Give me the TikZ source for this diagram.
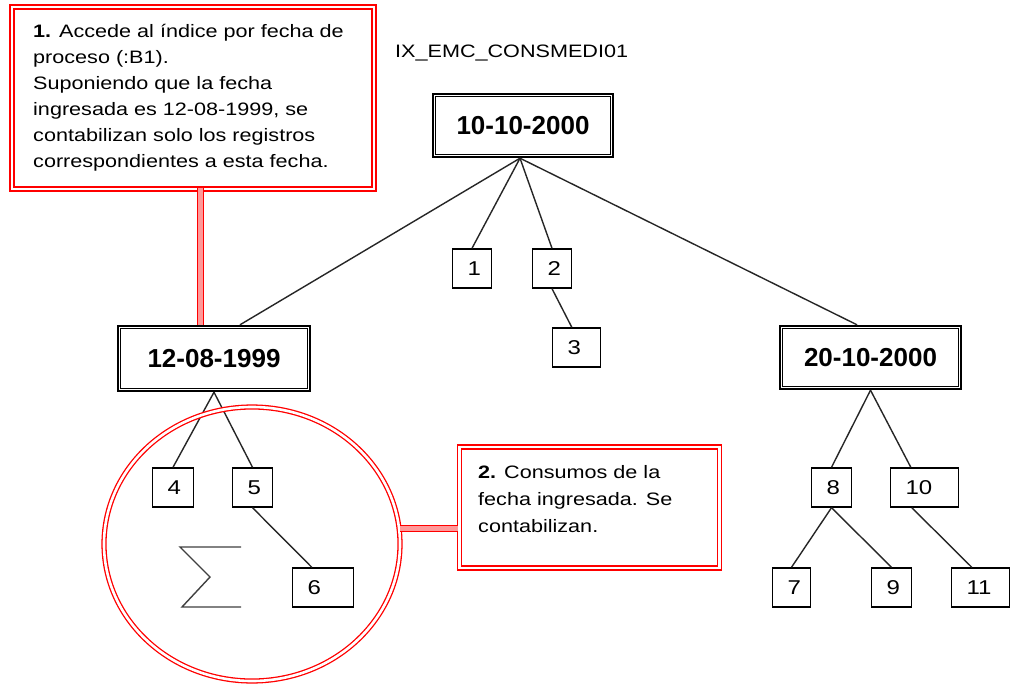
\documentclass[tikz,border=0pt]{standalone}
\usepackage{fontspec}
\setmainfont{Liberation Sans}
\newfontfamily\notefont{Liberation Sans}[FakeStretch=1.2]
\usetikzlibrary{shapes.geometric,calc}

\begin{document}
\begin{tikzpicture}[x=1pt,y=-1pt,
  link/.style={draw=black!85, line width=1.4pt},
  numbox/.style={draw, line width=1.4pt, minimum height=39pt, inner xsep=15pt,
    inner ysep=0pt, text width=#1, align=left,
    font=\notefont\fontsize{20}{24}\selectfont},
  dateframe/.style={draw, line width=2.4pt, inner sep=0pt,
    font=\fontsize{26}{30}\selectfont\bfseries},
  inframe/.style={line width=1pt},
  redframe/.style={draw=red, line width=1.3pt, double=white, double distance=2.6pt},
  redlink/.style={draw=red, line width=1pt, double=red!40, double distance=4.5pt},
  notetext/.style={inner sep=0pt, align=left},
]
\useasboundingbox (0,0) rectangle (1011,685);
\fill[white] (0,0) rectangle (1011,685);

% index name
\node[notetext, anchor=base west, font=\notefont\fontsize{18}{26}\selectfont]
  (ixname) at (395,57) {IX\_EMC\_CONSMEDI01};

% date keys of the index
\node[dateframe, minimum width=180pt, minimum height=63pt] (d1) at (523,125.5) {10-10-2000};
\node[dateframe, minimum width=192pt, minimum height=65pt] (d2) at (214,358.5) {12-08-1999};
\node[dateframe, minimum width=181pt, minimum height=63pt] (d3) at (870.5,357.5) {20-10-2000};
\foreach \d in {d1,d2,d3}
  \draw[inframe] ([shift={(4,-4)}]\d.south west) rectangle ([shift={(-4,4)}]\d.north east);

% record boxes
\node[numbox=9pt]  (n1)  at (472,268.5)   {1};
\node[numbox=9pt]  (n2)  at (552,268.5)   {2};
\node[numbox=18pt] (n3)  at (576.5,347.5) {3};
\node[numbox=11pt] (n4)  at (173,487.5)   {4};
\node[numbox=10pt] (n5)  at (252.5,487.5) {5};
\node[numbox=31pt] (n6)  at (323,587.5)   {6};
\node[numbox=8pt]  (n7)  at (791.5,587.5) {7};
\node[numbox=10pt] (n8)  at (831.5,487.5) {8};
\node[numbox=10pt] (n9)  at (891.5,587.5) {9};
\node[numbox=38pt] (n10) at (924.5,487.5) {10};
\node[numbox=28pt] (n11) at (980.5,587.5) {11};

% tree edges
\draw[link] ([xshift=-3pt]d1.south) -- ([xshift=26pt]d2.north);
\draw[link] ([xshift=-3pt]d1.south) -- (n1.north);
\draw[link] ([xshift=-3pt]d1.south) -- (n2.north);
\draw[link] ([xshift=-3pt]d1.south) -- ([xshift=-13.5pt]d3.north);
\draw[link] (n2.south) -- ([xshift=20pt]n3.north west);
\draw[link] (d2.south) -- (n4.north);
\draw[link] (d2.south) -- (n5.north);
\draw[link] (n5.south) -- ([xshift=20pt]n6.north west);
\draw[link] (d3.south) -- (n8.north);
\draw[link] (d3.south) -- ([xshift=21pt]n10.north west);
\draw[link] (n8.south) -- (n7.north);
\draw[link] (n8.south) -- (n9.north);
\draw[link] ([xshift=22pt]n10.south west) -- ([xshift=21pt]n11.north west);

% summation sign
\draw[line width=1.4pt, black!75] (241,547) -- (180,547) -- (210,577) -- (182,607) -- (241,607);

% group of counted records
\node[ellipse, redframe, inner sep=0pt, minimum width=296pt, minimum height=274pt]
  (sum) at (252,544) {};

% callout notes
\node[redframe, fill=white, minimum width=362pt, minimum height=182pt] (note1) at (193,98) {};
\node[redframe, fill=white, minimum width=260pt, minimum height=121pt] (note2) at (589.5,507.5) {};

% callout leaders
\coordinate (c1) at ([xshift=7.5pt]note1.south);
\coordinate (c2) at (sum.6);
\draw[redlink] ([yshift=2pt]c1) -- (c1 |- d2.north);
\draw[redlink] (c2) -- ([xshift=-1pt]c2 -| note2.west);

\node[notetext, anchor=west, font=\notefont\fontsize{18}{26}\selectfont] (t1) at (33,97.5)
  {{\bfseries 1.} Accede al índice por fecha de\\
   proceso (:B1).\\
   Suponiendo que la fecha\\
   ingresada es 12-08-1999, se\\
   contabilizan solo los registros\\
   correspondientes a esta fecha.};
\node[notetext, anchor=west, font=\notefont\fontsize{18}{27}\selectfont] (t2) at (478,499.5)
  {{\bfseries 2.} Consumos de la\\
   fecha ingresada. Se\\
   contabilizan.};
\end{tikzpicture}
\end{document}
